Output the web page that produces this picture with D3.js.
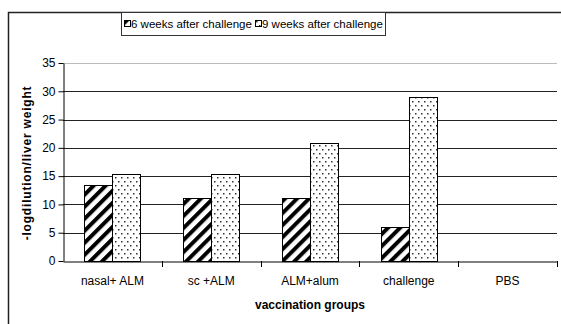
<!DOCTYPE html>
<html><head><meta charset="utf-8">
<script src="https://cdn.jsdelivr.net/npm/d3@7/dist/d3.min.js"></script>
<style>body{margin:0;background:#fff}svg{display:block;font-family:"Liberation Sans",Arial,sans-serif}</style>
</head><body><svg id="c" width="561" height="324"></svg>
<script>
const categories = ["nasal+ ALM","sc +ALM","ALM+alum","challenge","PBS"];
const series = ["6 weeks after challenge","9 weeks after challenge"];
const week6 = [13.4, 11.2, 11.2, 6.0, 0];
const week9 = [15.4, 15.3, 20.8, 29.0, 0];
const yTicks = [0,5,10,15,20,25,30,35];

const svg = d3.select("#c");
const defs = svg.append("defs");
const hatch = defs.append("pattern").attr("id","hatch").attr("patternUnits","userSpaceOnUse")
  .attr("width",8.5).attr("height",8.5).attr("patternTransform","rotate(45)");
hatch.append("rect").attr("width",8.5).attr("height",8.5).attr("fill","#fff");
hatch.append("rect").attr("x",0).attr("width",4).attr("height",8.5).attr("fill","#000");
const dots = defs.append("pattern").attr("id","dots").attr("patternUnits","userSpaceOnUse")
  .attr("width",6).attr("height",8);
dots.append("rect").attr("width",6).attr("height",8).attr("fill","#fff");
dots.append("rect").attr("x",1).attr("y",1).attr("width",1.5).attr("height",1.5).attr("fill","#333");
dots.append("rect").attr("x",4).attr("y",5).attr("width",1.5).attr("height",1.5).attr("fill","#333");

// outer frame
svg.append("path").attr("d","M8.5,324 V12.5 H561").attr("fill","none").attr("stroke","#222").attr("stroke-width",1.5);

const m = {l:63, r:557, t:63, b:261};
const x = d3.scaleBand().domain(categories).range([m.l,m.r]);
const y = d3.scaleLinear().domain([0,35]).range([m.b,m.t]);

// gridlines
svg.append("g").selectAll("line").data(yTicks.filter(d=>d>0)).join("line")
  .attr("x1",m.l).attr("x2",m.r).attr("y1",d=>Math.round(y(d))+0.5).attr("y2",d=>Math.round(y(d))+0.5)
  .attr("stroke",d=>d===35?"#bbb":"#222").attr("stroke-width",1);

// bars
const bw = 28;
const groups = categories.map((c,i)=>({c, v:[week6[i],week9[i]]}));
const g = svg.append("g");
groups.forEach(gr=>{
  const cx = x(gr.c)+x.bandwidth()/2;
  gr.v.forEach((v,j)=>{
    if(v<=0) return;
    const x0 = cx + (j===0?-bw:0);
    g.append("rect").attr("x",Math.round(x0)+0.5).attr("y",Math.round(y(v))+0.5)
      .attr("width",bw).attr("height",Math.round(y(0))-Math.round(y(v)))
      .attr("fill",j===0?"url(#hatch)":"url(#dots)").attr("stroke","#000").attr("stroke-width",1);
  });
});

// y axis
const ya = svg.append("g").attr("transform",`translate(${m.l+0.5},0)`)
  .call(d3.axisLeft(y).tickValues(yTicks).tickSize(5).tickPadding(3).tickSizeOuter(0));
ya.select(".domain").attr("stroke","#000");
ya.selectAll("line").attr("stroke","#000");
ya.selectAll("text").attr("font-size",12).attr("fill","#000").attr("font-family","Liberation Sans, Arial, sans-serif");

// x axis
const xa = svg.append("g").attr("transform",`translate(0,${m.b+0.5})`)
  .call(d3.axisBottom(x).tickSize(0).tickPadding(15));
xa.select(".domain").attr("stroke","#000");
xa.selectAll("text").attr("font-size",12).attr("fill","#000").attr("font-family","Liberation Sans, Arial, sans-serif");
// category separator ticks
svg.append("g").selectAll("line").data(categories).join("line")
  .attr("x1",d=>Math.round(x(d)+x.bandwidth())+0.5).attr("x2",d=>Math.round(x(d)+x.bandwidth())+0.5)
  .attr("y1",m.b).attr("y2",m.b+6).attr("stroke","#000");

// axis titles
svg.append("text").attr("x",310).attr("y",309).attr("text-anchor","middle")
  .attr("font-size",12).attr("font-weight","bold").text("vaccination groups");
svg.append("text").attr("transform","translate(31,163) rotate(-90)").attr("text-anchor","middle")
  .attr("font-size",12).attr("font-weight","bold").attr("letter-spacing",0.8).text("-logdilution/liver weight");

// legend
const lg = svg.append("g");
lg.append("rect").attr("x",121.5).attr("y",12.5).attr("width",264).attr("height",23)
  .attr("fill","#fff").attr("stroke","#333");
const items = [{x:124, fill:"url(#hatch)", t:series[0]},{x:255, fill:"url(#dots)", t:series[1]}];
items.forEach(it=>{
  lg.append("rect").attr("x",it.x+0.5).attr("y",20.5).attr("width",6).attr("height",6)
    .attr("fill",it.fill).attr("stroke","#000");
  lg.append("text").attr("x",it.x+7).attr("y",28).attr("font-size",11.5).text(it.t);
});
</script></body></html>
